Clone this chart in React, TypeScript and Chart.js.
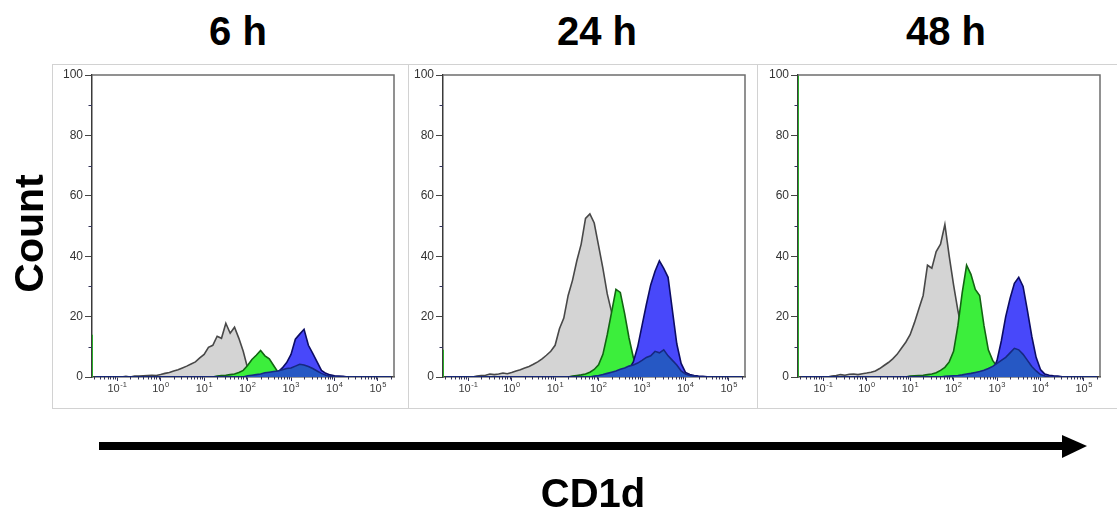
import React, { useEffect, useRef } from 'react';
import { Chart, registerables } from 'chart.js';

Chart.register(...registerables);

// ---------------- data ----------------
const PANEL_TITLES = ['6 h', '24 h', '48 h'];
const Y_TITLE = 'Count';
const X_TITLE = 'CD1d';

// histogram bin centres, in log10 units of fluorescence
const BINS = [
  -1.5, -1.4, -1.3, -1.2, -1.1,
  -1.0, -0.9, -0.8, -0.7, -0.6, -0.5, -0.4, -0.3, -0.2, -0.1,
  0.0, 0.1, 0.2, 0.3, 0.4, 0.5, 0.6, 0.7, 0.8, 0.9,
  1.0, 1.1, 1.2, 1.3, 1.4, 1.5, 1.6, 1.7, 1.8, 1.9,
  2.0, 2.1, 2.2, 2.3, 2.4, 2.5, 2.6, 2.7, 2.8, 2.9,
  3.0, 3.1, 3.2, 3.3, 3.4, 3.5, 3.6, 3.7, 3.8, 3.9,
  4.0, 4.1, 4.2, 4.3, 4.4, 4.5, 4.6, 4.7, 4.8, 4.9,
  5.0, 5.1, 5.2, 5.3,
];

const X_MIN = -1.58;
const X_MAX = 5.37;
const X_DECADES = [-1, 0, 1, 2, 3, 4, 5];
const MINOR_FACTORS = [2, 3, 4, 5, 6, 7, 8, 9];
const Y_MAX = 100;
const Y_STEP = 20;
const Y_MINOR = [10, 30, 50, 70, 90];

// events piled up in the lowest channel (green sample)
const EDGE_GREEN = [14, 9, 150];

// ---- 6 h ----
const GREY_6H = [
  0, 0, 0, 0, 0,
  0, 0, 0.2, 0, 0.3, 0.3, 0.4, 0.5, 0.6, 0.5,
  0.8, 1.2, 1.5, 2.0, 2.4, 3.0, 3.6, 4.3, 5.0, 6.3,
  7.5, 9.8, 10.5, 13.5, 12.8, 17.8, 14.5, 16.5, 12.8, 8.5,
  3.0, 0.8, 0.3, 0.2, 0, 0, 0, 0, 0, 0,
  0, 0, 0, 0, 0, 0, 0, 0, 0, 0,
  0, 0, 0, 0, 0, 0, 0, 0, 0, 0,
  0, 0, 0, 0,
];
const GREEN_6H = [
  0, 0, 0, 0, 0,
  0, 0, 0, 0, 0, 0, 0, 0, 0, 0,
  0, 0, 0, 0, 0, 0, 0, 0, 0, 0,
  0, 0, 0, 0.3, 0.5, 0.6, 0.8, 1.0, 1.5, 2.2,
  3.8, 5.8, 7.2, 8.8, 7.0, 6.0, 3.8, 1.6, 0.8, 0.5,
  0.3, 0.2, 0, 0, 0, 0, 0, 0, 0, 0,
  0, 0, 0, 0, 0, 0, 0, 0, 0, 0,
  0, 0, 0, 0,
];
const BLUE_6H = [
  0, 0, 0, 0, 0,
  0, 0, 0, 0, 0, 0, 0, 0, 0, 0,
  0, 0, 0, 0, 0, 0, 0, 0, 0, 0,
  0, 0, 0, 0, 0, 0, 0, 0, 0, 0,
  0, 0, 0, 0, 0, 0.5, 1.0, 1.6, 3.0, 4.8,
  7.5, 12.5, 14.2, 15.8, 10.5, 7.8, 5.0, 2.2, 1.2, 0.7,
  0.4, 0.3, 0.2, 0, 0, 0, 0, 0, 0, 0,
  0, 0, 0, 0,
];
const OVER_6H = [
  0, 0, 0, 0, 0,
  0, 0, 0, 0, 0, 0, 0, 0, 0, 0,
  0, 0, 0, 0, 0, 0, 0, 0, 0, 0,
  0, 0, 0, 0, 0, 0, 0, 0, 0, 0,
  0.4, 0.6, 0.8, 1.0, 1.4, 1.6, 1.8, 2.0, 2.4, 2.8,
  3.0, 3.6, 4.2, 4.0, 3.5, 2.8, 2.0, 1.2, 0.6, 0.3,
  0.1, 0, 0, 0, 0, 0, 0, 0, 0, 0,
  0, 0, 0, 0,
];

// ---- 24 h ----
const GREY_24H = [
  0, 0, 0, 0, 0,
  0, 0, 0.3, 0.5, 0.6, 1.0, 0.8, 1.0, 1.3, 1.1,
  1.5, 2.0, 2.4, 3.0, 3.5, 4.2, 5.0, 6.0, 7.2, 8.5,
  10.5, 16.0, 19.5, 27.0, 32.0, 38.5, 44.0, 52.5, 54.0, 51.0,
  43.5, 36.0, 27.5, 21.5, 13.5, 8.0, 4.0, 2.0, 1.0, 0.5,
  0.3, 0, 0, 0, 0, 0, 0, 0, 0, 0,
  0, 0, 0, 0, 0, 0, 0, 0, 0, 0,
  0, 0, 0, 0,
];
const GREEN_24H = [
  0, 0, 0, 0, 0,
  0, 0, 0, 0, 0, 0, 0, 0, 0, 0,
  0, 0, 0, 0, 0, 0, 0, 0, 0, 0,
  0, 0, 0, 0, 0.3, 0.5, 0.7, 1.0, 1.6, 2.5,
  4.0, 7.5, 14.0, 21.5, 29.0, 28.0, 21.0, 13.0, 6.5, 3.5,
  2.0, 1.2, 0.8, 0.5, 0.3, 0.2, 0, 0, 0, 0,
  0, 0, 0, 0, 0, 0, 0, 0, 0, 0,
  0, 0, 0, 0,
];
const BLUE_24H = [
  0, 0, 0, 0, 0,
  0, 0, 0, 0, 0, 0, 0, 0, 0, 0,
  0, 0, 0, 0, 0, 0, 0, 0, 0, 0,
  0, 0, 0, 0, 0, 0, 0, 0, 0, 0,
  0, 0, 0, 0, 0.5, 0.8, 1.5, 2.5, 5.0, 10.0,
  17.0, 24.0, 30.5, 35.0, 38.5, 36.0, 33.0, 22.0, 11.0, 4.5,
  1.5, 0.8, 0.5, 0.3, 0.2, 0.1, 0, 0, 0, 0,
  0, 0, 0, 0,
];
const OVER_24H = [
  0, 0, 0, 0, 0,
  0, 0, 0, 0, 0, 0, 0, 0, 0, 0,
  0, 0, 0, 0, 0, 0, 0, 0, 0, 0,
  0, 0, 0, 0, 0, 0, 0, 0, 0, 0.3,
  0.5, 0.8, 1.2, 1.6, 2.0, 2.6, 3.0, 3.6, 4.0, 4.6,
  5.5, 6.5, 7.0, 8.5, 8.0, 9.0, 7.0, 5.5, 4.0, 2.0,
  1.0, 0.5, 0.3, 0, 0, 0, 0, 0, 0, 0,
  0, 0, 0, 0,
];

// ---- 48 h ----
const GREY_48H = [
  0, 0, 0, 0, 0,
  0, 0, 0.3, 0.5, 0.8, 0.6, 0.9, 1.0, 0.8, 1.1,
  1.3, 1.6, 2.0, 2.8, 3.8, 4.8, 6.0, 7.5, 9.5, 11.5,
  14.0, 18.0, 22.5, 27.0, 37.0, 36.0, 41.5, 44.0, 50.5, 40.0,
  30.5, 22.0, 15.0, 9.5, 5.5, 3.0, 1.5, 0.8, 0.4, 0.2,
  0, 0, 0, 0, 0, 0, 0, 0, 0, 0,
  0, 0, 0, 0, 0, 0, 0, 0, 0, 0,
  0, 0, 0, 0,
];
const GREEN_48H = [
  0, 0, 0, 0, 0,
  0, 0, 0, 0, 0, 0, 0, 0, 0, 0,
  0, 0, 0, 0, 0, 0, 0, 0, 0, 0,
  0.3, 0.4, 0.5, 0.6, 0.8, 1.0, 1.4, 2.2, 3.2, 5.0,
  8.5, 17.0, 28.0, 37.0, 34.0, 29.0, 27.0, 17.0, 9.0, 5.5,
  3.5, 2.2, 1.2, 0.7, 0.4, 0.2, 0, 0, 0, 0,
  0, 0, 0, 0, 0, 0, 0, 0, 0, 0,
  0, 0, 0, 0,
];
const BLUE_48H = [
  0, 0, 0, 0, 0,
  0, 0, 0, 0, 0, 0, 0, 0, 0, 0,
  0, 0, 0, 0, 0, 0, 0, 0, 0, 0,
  0, 0, 0, 0, 0, 0, 0, 0, 0, 0,
  0, 0, 0, 0, 0, 0, 0.5, 0.8, 1.2, 2.0,
  5.5, 12.0, 20.0, 26.0, 31.0, 33.0, 30.0, 22.0, 13.5, 6.5,
  2.5, 1.0, 0.6, 0.4, 0.3, 0.1, 0, 0, 0, 0,
  0, 0, 0, 0,
];
const OVER_48H = [
  0, 0, 0, 0, 0,
  0, 0, 0, 0, 0, 0, 0, 0, 0, 0,
  0, 0, 0, 0, 0, 0, 0, 0, 0, 0,
  0, 0, 0, 0, 0, 0, 0, 0, 0.2, 0.3,
  0.4, 0.5, 0.7, 1.0, 1.2, 1.5, 1.8, 2.2, 2.8, 3.5,
  4.5, 5.5, 6.5, 8.0, 9.5, 9.0, 7.5, 5.5, 3.5, 2.0,
  0.8, 0.3, 0, 0, 0, 0, 0, 0, 0, 0,
  0, 0, 0, 0,
];

const PANEL_DATA = [
  { grey: GREY_6H, green: GREEN_6H, blue: BLUE_6H, over: OVER_6H, edge: EDGE_GREEN[0] },
  { grey: GREY_24H, green: GREEN_24H, blue: BLUE_24H, over: OVER_24H, edge: EDGE_GREEN[1] },
  { grey: GREY_48H, green: GREEN_48H, blue: BLUE_48H, over: OVER_48H, edge: EDGE_GREEN[2] },
];

// ---------------- layout & style ----------------
const FONT = '"Liberation Sans", Arial, Helvetica, sans-serif';
const CANVAS_LEFTS = [51, 402, 757];
const CANVAS_TOP = 64;
const CANVAS_W = 358;
const CANVAS_H = 344;
const FRAME_BOXES = [
  { left: 52, width: 357 },
  { left: 408, width: 350 },
  { left: 757, width: 362 },
];
const TITLE_CENTERS = [238, 597, 946];

const COLORS = {
  greyFill: 'rgb(212,212,212)',
  greyLine: 'rgb(72,72,72)',
  greenFill: 'rgb(60,238,60)',
  greenLine: 'rgb(18,100,18)',
  blueFill: 'rgb(72,72,250)',
  blueLine: 'rgb(12,12,100)',
  overFill: 'rgb(38,88,196)',
  overLine: 'rgb(22,40,130)',
};

const decorPlugin = {
  id: 'facsDecor',
  afterDraw(chart: any) {
    const { ctx, chartArea: a, scales } = chart;
    const xs = scales.x;
    const ys = scales.y;
    ctx.save();
    // top / right frame
    ctx.strokeStyle = '#6e6e6e';
    ctx.lineWidth = 1.5;
    ctx.beginPath();
    ctx.moveTo(a.left, a.top);
    ctx.lineTo(a.right, a.top);
    ctx.lineTo(a.right, a.bottom);
    ctx.stroke();
    // minor ticks
    ctx.strokeStyle = '#33335a';
    ctx.lineWidth = 1;
    ctx.beginPath();
    for (const d of [-2, ...X_DECADES]) {
      for (const f of MINOR_FACTORS) {
        const v = d + Math.log10(f);
        if (v < X_MIN || v > X_MAX) continue;
        const px = Math.round(xs.getPixelForValue(v)) + 0.5;
        ctx.moveTo(px, a.bottom);
        ctx.lineTo(px, a.bottom + 2.5);
      }
    }
    for (const v of Y_MINOR) {
      const py = Math.round(ys.getPixelForValue(v)) + 0.5;
      ctx.moveTo(a.left - 3.5, py);
      ctx.lineTo(a.left, py);
    }
    ctx.stroke();
    // decade labels 10^n
    ctx.fillStyle = '#3a3a3a';
    ctx.textAlign = 'left';
    ctx.textBaseline = 'alphabetic';
    for (const d of X_DECADES) {
      const base = '10';
      const exp = String(d);
      ctx.font = `11px ${FONT}`;
      const wb = ctx.measureText(base).width;
      ctx.font = `7.5px ${FONT}`;
      const we = ctx.measureText(exp).width;
      const cx = xs.getPixelForValue(d);
      const x0 = cx - (wb + we + 0.5) / 2;
      ctx.font = `11px ${FONT}`;
      ctx.fillText(base, x0, a.bottom + 15);
      ctx.font = `7.5px ${FONT}`;
      ctx.fillText(exp, x0 + wb + 0.5, a.bottom + 10);
    }
    ctx.restore();
  },
};

function histDataset(values: number[], fill: string, stroke: string, order: number) {
  return {
    data: BINS.map((b, i) => ({ x: b, y: values[i] })),
    backgroundColor: fill,
    borderColor: stroke,
    borderWidth: 1.6,
    fill: 'origin',
    pointRadius: 0,
    tension: 0,
    order,
  };
}

function makeConfig(p: (typeof PANEL_DATA)[number]): any {
  return {
    type: 'line',
    data: {
      datasets: [
        {
          data: [
            { x: X_MIN, y: 0 },
            { x: X_MIN, y: p.edge },
          ],
          borderColor: 'rgb(40,170,40)',
          borderWidth: 2,
          fill: false,
          pointRadius: 0,
          order: 0,
        },
        histDataset(p.over, COLORS.overFill, COLORS.overLine, 1),
        histDataset(p.blue, COLORS.blueFill, COLORS.blueLine, 2),
        histDataset(p.green, COLORS.greenFill, COLORS.greenLine, 3),
        histDataset(p.grey, COLORS.greyFill, COLORS.greyLine, 4),
      ],
    },
    options: {
      animation: false,
      responsive: false,
      events: [],
      layout: { padding: { left: 0, right: 15, top: 11, bottom: 0 } },
      plugins: { legend: { display: false }, tooltip: { enabled: false }, title: { display: false } },
      scales: {
        x: {
          type: 'linear',
          min: X_MIN,
          max: X_MAX,
          afterBuildTicks: (axis: any) => {
            axis.ticks = X_DECADES.map((v) => ({ value: v }));
          },
          afterFit: (s: any) => {
            s.height = 31;
          },
          ticks: { display: false },
          grid: { drawOnChartArea: false, drawTicks: true, tickLength: 4, color: '#33335a', lineWidth: 1 },
          border: { display: true, color: '#3a3a3a', width: 1.5 },
        },
        y: {
          type: 'linear',
          min: 0,
          max: Y_MAX,
          ticks: {
            stepSize: Y_STEP,
            padding: 2,
            color: '#333',
            font: { family: FONT, size: 12 },
          },
          afterFit: (s: any) => {
            s.width = 41;
          },
          grid: { drawOnChartArea: false, drawTicks: true, tickLength: 7, color: '#444', lineWidth: 1 },
          border: { display: true, color: '#3a3a3a', width: 1.5 },
        },
      },
    },
    plugins: [decorPlugin],
  };
}

export default function App() {
  const refs = [useRef<HTMLCanvasElement>(null), useRef<HTMLCanvasElement>(null), useRef<HTMLCanvasElement>(null)];

  useEffect(() => {
    const charts = refs.map((r, i) => new Chart(r.current as HTMLCanvasElement, makeConfig(PANEL_DATA[i])));
    return () => charts.forEach((c) => c.destroy());
  }, []);

  const titleStyle = (cx: number): React.CSSProperties => ({
    position: 'absolute',
    left: cx - 100,
    top: 11,
    width: 200,
    textAlign: 'center',
    font: `bold 40px ${FONT}`,
    lineHeight: '40px',
    color: '#000',
    whiteSpace: 'nowrap',
  });

  return (
    <div
      style={{
        position: 'absolute',
        left: 0,
        top: 0,
        width: 1117,
        height: 512,
        background: '#fff',
        overflow: 'hidden',
      }}
    >
      {FRAME_BOXES.map((b, i) => (
        <div
          key={'f' + i}
          style={{
            position: 'absolute',
            left: b.left,
            top: CANVAS_TOP,
            width: b.width,
            height: 345,
            boxSizing: 'border-box',
            border: '1px solid #d2d2d2',
          }}
        />
      ))}
      {CANVAS_LEFTS.map((l, i) => (
        <canvas
          key={'c' + i}
          ref={refs[i]}
          width={CANVAS_W}
          height={CANVAS_H}
          style={{ position: 'absolute', left: l, top: CANVAS_TOP, width: CANVAS_W, height: CANVAS_H }}
        />
      ))}
      {PANEL_TITLES.map((t, i) => (
        <div key={'t' + i} style={titleStyle(TITLE_CENTERS[i])}>
          {t}
        </div>
      ))}
      <div
        style={{
          position: 'absolute',
          left: 28.8 - 100,
          top: 233 - 20.5,
          width: 200,
          height: 41,
          textAlign: 'center',
          font: `bold 41px ${FONT}`,
          lineHeight: '41px',
          transform: 'rotate(-90deg)',
          transformOrigin: '50% 50%',
          whiteSpace: 'nowrap',
        }}
      >
        {Y_TITLE}
      </div>
      <svg
        width={1117}
        height={512}
        style={{ position: 'absolute', left: 0, top: 0, pointerEvents: 'none' }}
      >
        <rect x={99} y={442} width={966} height={8} fill="#000" />
        <polygon points="1062,435 1087,446 1062,458" fill="#000" />
      </svg>
      <div
        style={{
          position: 'absolute',
          left: 593 - 100,
          top: 473,
          width: 200,
          textAlign: 'center',
          font: `bold 40px ${FONT}`,
          lineHeight: '40px',
          whiteSpace: 'nowrap',
        }}
      >
        {X_TITLE}
      </div>
    </div>
  );
}
